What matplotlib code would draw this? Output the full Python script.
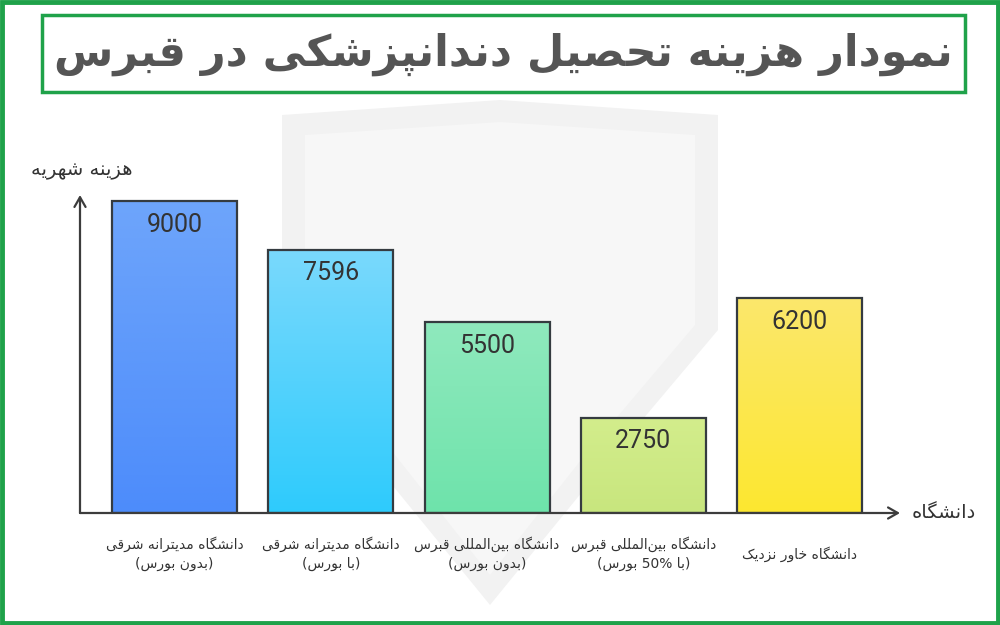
import matplotlib
matplotlib.use("Agg")
import matplotlib.pyplot as plt
import numpy as np
from matplotlib.colors import LinearSegmentedColormap
from matplotlib.patches import Rectangle, Polygon

# --- data ---
title = "نمودار هزینه تحصیل دندانپزشکی در قبرس"
y_label = "هزینه شهریه"
x_label = "دانشگاه"
universities = [
    "دانشگاه مدیترانه شرقی\n(بدون بورس)",
    "دانشگاه مدیترانه شرقی\n(با بورس)",
    "دانشگاه بین\u200cالمللی قبرس\n(بدون بورس)",
    "دانشگاه بین\u200cالمللی قبرس\n(با " + "50%" + " بورس)",
    "دانشگاه خاور نزدیک",
]
tuition = [9000, 7596, 5500, 2750, 6200]
top_colors = ["#6ea5fb", "#7ad9fc", "#8fe9bd", "#d3ed8c", "#fbe76c"]
bottom_colors = ["#4d8cfb", "#2ecbfd", "#6ee3ab", "#c8e67e", "#fde830"]

GREEN = "#1fa24a"
TEXT = "#333333"

# matplotlib has no arabic shaping, so pick presentation forms by hand
# letter -> (first code point, number of forms): iso, fin, ini, med
FORMS = {
    "آ": (0xFE81, 2), "ا": (0xFE8D, 2), "ب": (0xFE8F, 4), "ت": (0xFE95, 4),
    "ث": (0xFE99, 4), "ج": (0xFE9D, 4), "ح": (0xFEA1, 4), "خ": (0xFEA5, 4),
    "د": (0xFEA9, 2), "ذ": (0xFEAB, 2), "ر": (0xFEAD, 2), "ز": (0xFEAF, 2),
    "س": (0xFEB1, 4), "ش": (0xFEB5, 4), "ص": (0xFEB9, 4), "ض": (0xFEBD, 4),
    "ط": (0xFEC1, 4), "ظ": (0xFEC5, 4), "ع": (0xFEC9, 4), "غ": (0xFECD, 4),
    "ف": (0xFED1, 4), "ق": (0xFED5, 4), "ل": (0xFEDD, 4), "م": (0xFEE1, 4),
    "ن": (0xFEE5, 4), "ه": (0xFEE9, 4), "و": (0xFEED, 2), "پ": (0xFB56, 4),
    "چ": (0xFB7A, 4), "ژ": (0xFB8A, 2), "ک": (0xFB8E, 4), "گ": (0xFB92, 4),
    "ی": (0xFBFC, 4),
}


def shape_line(line):
    out = []
    for i, ch in enumerate(line):
        if ch == "\u200c":
            continue
        if ch not in FORMS:
            out.append(ch)
            continue
        start, n = FORMS[ch]
        prev = line[i - 1] if i > 0 else ""
        nxt = line[i + 1] if i + 1 < len(line) else ""
        join_prev = prev in FORMS and FORMS[prev][1] == 4
        join_next = n == 4 and nxt in FORMS
        if join_prev and join_next:
            k = 3
        elif join_next:
            k = 2
        elif join_prev:
            k = 1
        else:
            k = 0
        out.append(chr(start + k))
    # visual order: reverse, but keep numbers left to right
    vis = out[::-1]
    res, run = [], []
    for ch in vis + [""]:
        if ch and (ch.isdigit() or ch == "%"):
            run.append(ch)
            continue
        res.extend(run[::-1])
        run = []
        if ch == "(":
            res.append(")")
        elif ch == ")":
            res.append("(")
        else:
            res.append(ch)
    return "".join(res)


def fa(text):
    return "\n".join(shape_line(l) for l in text.split("\n"))


plt.rcParams["font.family"] = ["DejaVu Sans"]

fig = plt.figure(figsize=(10, 6.25), dpi=100)
fig.patch.set_facecolor("white")

# faint shield watermark in the background
W, H = 1000, 625
shield = [(282, 115), (500, 100), (718, 115), (718, 330), (600, 470),
          (490, 605), (380, 470), (282, 330)]
fig.add_artist(Polygon([(px / W, 1 - py / H) for px, py in shield],
                       closed=True, transform=fig.transFigure,
                       facecolor="#f2f2f2", edgecolor="none", zorder=0))
inner = [(305, 135), (500, 122), (695, 135), (695, 325), (585, 455),
         (490, 575), (395, 455), (305, 325)]
fig.add_artist(Polygon([(px / W, 1 - py / H) for px, py in inner],
                       closed=True, transform=fig.transFigure,
                       facecolor="#f7f7f7", edgecolor="none", zorder=0))

# outer green frame and title box
fig.add_artist(Rectangle((0.002, 0.003), 0.996, 0.994, transform=fig.transFigure,
                         fill=False, edgecolor=GREEN, linewidth=3.5))
fig.add_artist(Rectangle((0.042, 1 - 92 / 625), 0.923, 77 / 625, transform=fig.transFigure,
                         facecolor="white", edgecolor=GREEN, linewidth=2.5))
fig.text(0.503, 1 - 54 / 625, fa(title), ha="center", va="center",
         fontsize=31, fontweight="bold", color="#555555")

ax = fig.add_axes([0.08, 1 - 513 / 625, 0.82, 318 / 625])
ax.set_facecolor("none")
for s in ax.spines.values():
    s.set_visible(False)
ax.set_xticks([])
ax.set_yticks([])

x = np.arange(len(tuition))
bars = ax.bar(x, tuition, width=0.8, facecolor="none", edgecolor="#353b40",
              linewidth=1.6, zorder=3)

grad = np.linspace(0, 1, 256).reshape(-1, 1)
for rect, c0, c1 in zip(bars, bottom_colors, top_colors):
    cmap = LinearSegmentedColormap.from_list("g", [c0, c1])
    x0 = rect.get_x()
    im = ax.imshow(grad, cmap=cmap, origin="lower", aspect="auto", zorder=2,
                   extent=(x0, x0 + rect.get_width(), 0, rect.get_height()))
    im.set_clip_path(rect)

for xi, v in zip(x, tuition):
    ax.annotate(str(v), (xi, v), xytext=(0, -17), textcoords="offset points",
                ha="center", va="center", fontsize=18, color=TEXT, family="Roboto")

ax.set_xlim(-0.605, 4.643)
ax.set_ylim(0, 9173)

# axes with arrow heads
arrow = dict(arrowstyle="->,head_length=0.7,head_width=0.4", lw=1.6,
             color="#3c3c3c", shrinkA=0, shrinkB=0)
ax.annotate("", xy=(0, 1), xytext=(0, 0), xycoords="axes fraction", arrowprops=arrow)
ax.annotate("", xy=(1, 0), xytext=(0, 0), xycoords="axes fraction", arrowprops=arrow)

for xi, name in zip(x, universities):
    ax.annotate(fa(name), (xi, 0), xytext=(0, -29.5), textcoords="offset points",
                ha="center", va="center", fontsize=10, color=TEXT, linespacing=1.45)

fig.text(0.082, 1 - 170 / 625, fa(y_label), ha="center", va="center",
         fontsize=14, color=TEXT)
fig.text(0.912, 1 - 513 / 625, fa(x_label), ha="left", va="center",
         fontsize=14, color=TEXT)

fig.savefig("out.png", dpi=100, facecolor="white")
